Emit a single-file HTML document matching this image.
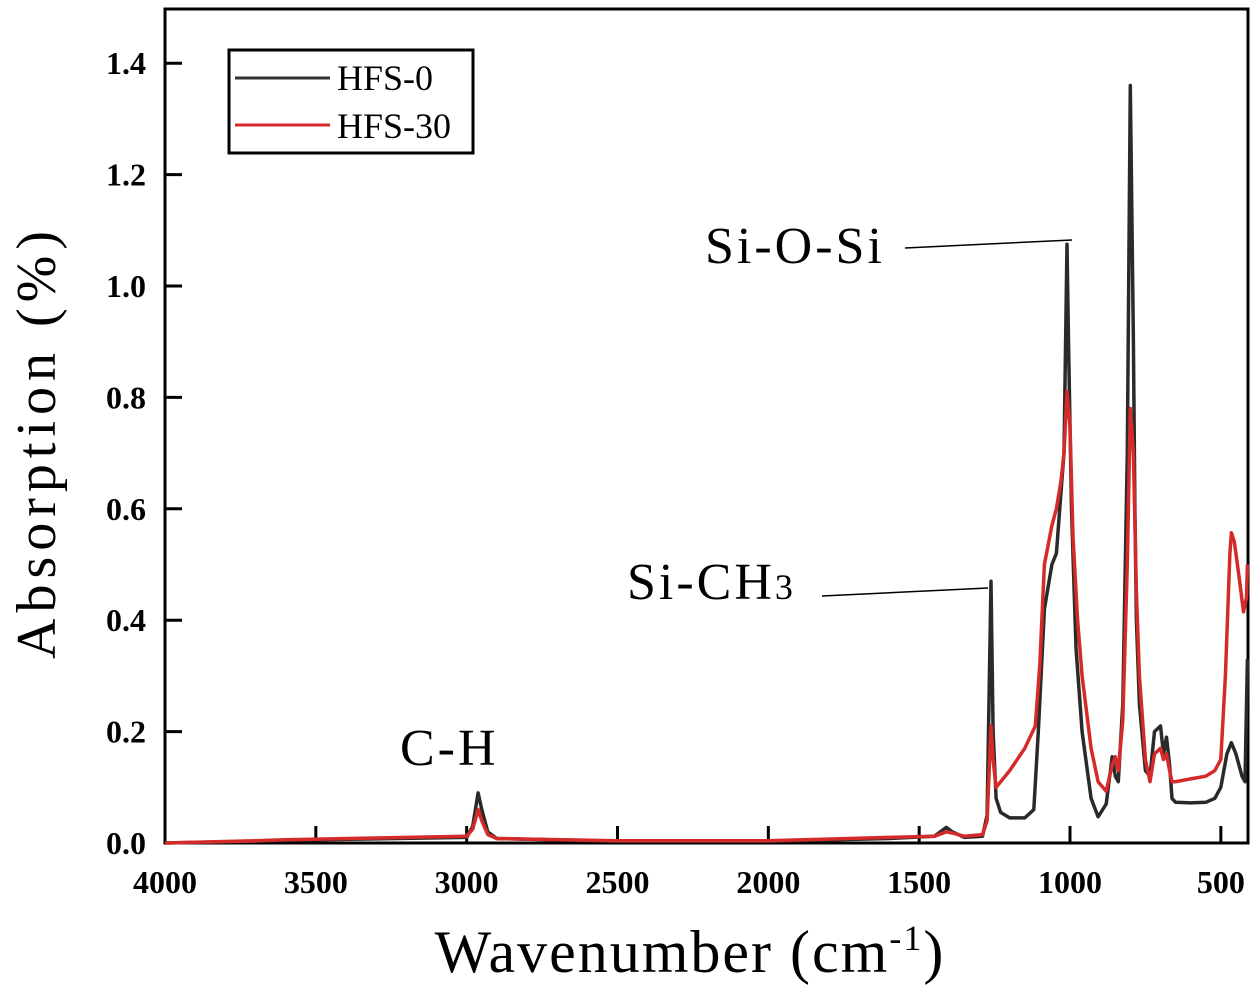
<!DOCTYPE html>
<html><head><meta charset="utf-8"><style>
html,body{margin:0;padding:0;background:#fff;}
svg{display:block;font-family:"Liberation Serif",serif;}
</style></head><body>
<svg id="chart" width="1260" height="990" viewBox="0 0 1260 990">
<rect x="165" y="9" width="1083" height="834" fill="none" stroke="#000" stroke-width="3"/>
<g id="ticks"></g>
<g id="series"></g>
<text x="0" y="0" transform="translate(55,442) rotate(-90)" text-anchor="middle" font-size="56" letter-spacing="6">Absorption (%)</text>
<text x="690" y="972" text-anchor="middle" font-size="60" letter-spacing="2">Wavenumber (cm<tspan font-size="36" dy="-22">-1</tspan><tspan dy="22">)</tspan></text>
<g>
<rect x="229" y="50" width="244" height="103" fill="#fff" stroke="#000" stroke-width="3"/>
<line x1="235" y1="78" x2="330" y2="78" stroke="#333" stroke-width="3"/>
<text x="337" y="90" font-size="36">HFS-0</text>
<line x1="235" y1="125" x2="330" y2="125" stroke="#d42a2a" stroke-width="3"/>
<text x="337" y="138" font-size="36">HFS-30</text>
</g>
<g>
<text x="705" y="263" font-size="52" letter-spacing="3">Si-O-Si</text>
<line x1="905" y1="248" x2="1072" y2="240" stroke="#000" stroke-width="1.5"/>
<text x="627" y="599" font-size="52" letter-spacing="3">Si-CH<tspan font-size="36">3</tspan></text>
<line x1="822" y1="596" x2="988" y2="588" stroke="#000" stroke-width="1.5"/>
<text x="400" y="765" font-size="52" letter-spacing="3">C-H</text>
</g>
</svg>
<script>
const xTicks = [4000, 3500, 3000, 2500, 2000, 1500, 1000, 500];
const yTicks = [0.0, 0.2, 0.4, 0.6, 0.8, 1.0, 1.2, 1.4];
const yTickLabels = ["0.0", "0.2", "0.4", "0.6", "0.8", "1.0", "1.2", "1.4"];
const wave0 = [4000,3700,3600,3000,2980,2962,2950,2930,2900,2500,2000,1600,1450,1410,1390,1350,1290,1275,1262,1255,1245,1230,1200,1150,1120,1105,1085,1060,1045,1030,1020,1010,1005,995,980,960,930,907,880,860,850,840,825,810,800,790,785,780,770,750,735,720,700,690,680,670,662,650,600,550,520,500,480,465,450,430,420,412];
const hfs0 = [0.0,0.003,0.005,0.01,0.03,0.09,0.06,0.02,0.008,0.003,0.003,0.008,0.012,0.028,0.02,0.01,0.012,0.05,0.47,0.2,0.08,0.055,0.045,0.045,0.06,0.2,0.42,0.5,0.52,0.63,0.7,1.075,0.9,0.6,0.35,0.2,0.08,0.047,0.07,0.155,0.12,0.11,0.25,0.7,1.36,0.9,0.6,0.4,0.25,0.13,0.12,0.2,0.21,0.16,0.19,0.14,0.08,0.073,0.072,0.073,0.08,0.1,0.16,0.18,0.16,0.12,0.11,0.33];
const wave30 = [4000,3700,3600,3000,2980,2962,2950,2930,2900,2500,2000,1600,1450,1410,1390,1350,1290,1275,1262,1255,1245,1200,1150,1115,1100,1085,1060,1045,1030,1020,1010,1000,990,975,960,930,907,880,860,850,840,825,810,800,790,780,770,750,735,720,700,690,680,670,662,650,600,550,520,500,485,470,465,455,440,425,415,412];
const hfs30 = [0.0,0.004,0.006,0.012,0.025,0.06,0.04,0.015,0.008,0.004,0.004,0.01,0.012,0.02,0.018,0.012,0.015,0.04,0.21,0.15,0.1,0.13,0.17,0.21,0.32,0.5,0.57,0.6,0.65,0.7,0.81,0.75,0.55,0.4,0.3,0.17,0.11,0.093,0.14,0.155,0.13,0.22,0.5,0.78,0.7,0.45,0.3,0.15,0.11,0.16,0.17,0.15,0.16,0.13,0.11,0.11,0.115,0.12,0.13,0.15,0.3,0.52,0.557,0.54,0.48,0.415,0.44,0.5];
const X0=165, X1=1248, W0=4000, W1=410, Y0=843, YSCALE=557;
function xs(w){return X0+(W0-w)*(X1-X0)/(W0-W1);}
function ys(v){return Y0-v*YSCALE;}
const NS="http://www.w3.org/2000/svg";
const tg=document.getElementById('ticks');
xTicks.forEach(t=>{
  const l=document.createElementNS(NS,'line');
  l.setAttribute('x1',xs(t));l.setAttribute('x2',xs(t));l.setAttribute('y1',Y0);l.setAttribute('y2',Y0-17);
  l.setAttribute('stroke','#000');l.setAttribute('stroke-width','3');
  
  
  tg.appendChild(l);
  const tx=document.createElementNS(NS,'text');
  tx.setAttribute('x',xs(t));tx.setAttribute('y',893);tx.setAttribute('text-anchor','middle');
  tx.setAttribute('font-size','32');tx.setAttribute('font-weight','bold');tx.textContent=t;
  
  
  tg.appendChild(tx);
});
yTicks.forEach((t,i)=>{
  const l=document.createElementNS(NS,'line');
  l.setAttribute('x1',X0);l.setAttribute('x2',X0+17);l.setAttribute('y1',ys(t));l.setAttribute('y2',ys(t));
  l.setAttribute('stroke','#000');l.setAttribute('stroke-width','3');
  
  
  tg.appendChild(l);
  const tx=document.createElementNS(NS,'text');
  tx.setAttribute('x',146);tx.setAttribute('y',ys(t)+11);tx.setAttribute('text-anchor','end');
  tx.setAttribute('font-size','32');tx.setAttribute('font-weight','bold');tx.textContent=yTickLabels[i];
  
  
  tg.appendChild(tx);
});
const sg=document.getElementById('series');
function draw(w,v,color,name){
  const p=document.createElementNS(NS,'polyline');
  p.setAttribute('points',w.map((x,i)=>xs(x).toFixed(1)+','+ys(v[i]).toFixed(1)).join(' '));
  p.setAttribute('fill','none');p.setAttribute('stroke',color);p.setAttribute('stroke-width','3.5');
  p.setAttribute('stroke-linejoin','round');
  
  
  sg.appendChild(p);
}
draw(wave0,hfs0,'#2a2a2a','series-hfs0-line');
draw(wave30,hfs30,'#d42a2a','series-hfs30-line');
</script>
</body></html>
